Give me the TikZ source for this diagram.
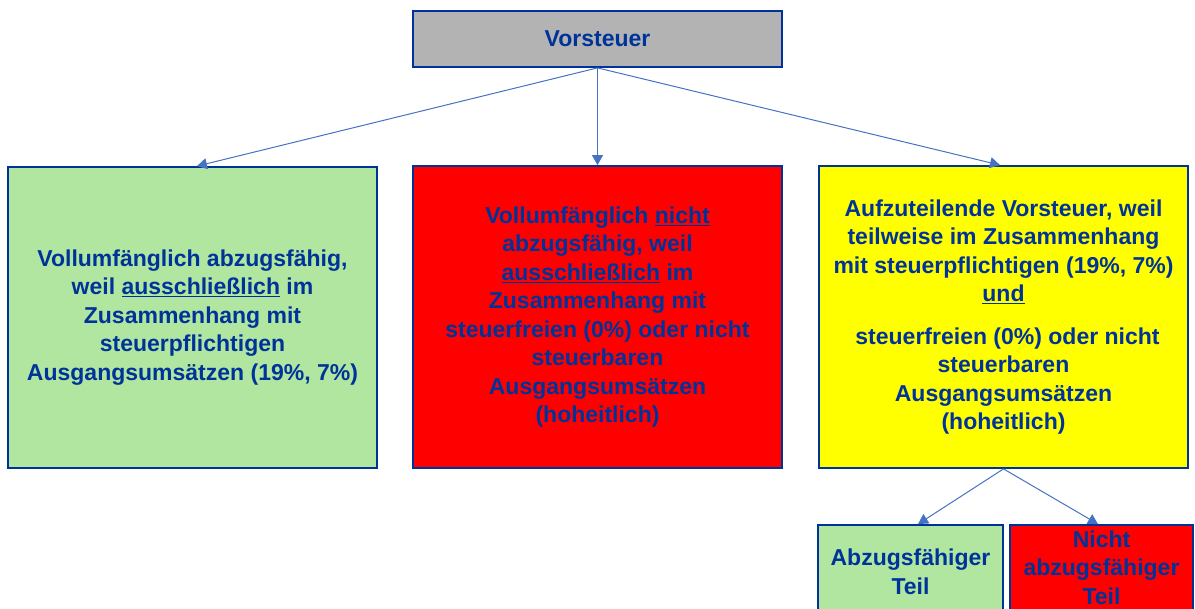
\documentclass[tikz,border=0pt]{standalone}
\usepackage{fontspec}
\setmainfont{Liberation Sans}
\usetikzlibrary{arrows.meta}
\definecolor{txtblue}{RGB}{0,51,153}
\definecolor{edgeblue}{RGB}{0,51,153}
\definecolor{arrowblue}{RGB}{68,114,196}
\definecolor{boxgray}{RGB}{179,179,179}
\definecolor{boxgreen}{RGB}{176,230,160}
\definecolor{boxred}{RGB}{255,0,0}
\definecolor{boxyellow}{RGB}{255,255,0}
\tikzset{
  box/.style={draw=edgeblue, line width=1.8pt, rectangle, inner sep=0pt,
    text=txtblue, align=center,
    font=\fontsize{23pt}{28.5pt}\selectfont\bfseries},
  conn/.style={draw=arrowblue, line width=1pt,
    -{Triangle[width=11pt,length=10pt]}}
}
\begin{document}
\begin{tikzpicture}[x=1pt,y=-1pt]
\useasboundingbox (0,0) rectangle (1195,609);
\clip (0,0) rectangle (1195,609);
\node[box, fill=boxgray, minimum width=369pt, minimum height=56pt] (vst) at (597.5,39) {Vorsteuer};
\node[box, fill=boxgreen, minimum width=369pt, minimum height=301pt] (voll) at (192.5,317.5)
  {Vollumfänglich abzugsfähig,\\ weil \underline{ausschließlich} im\\ Zusammenhang mit\\ steuerpflichtigen\\ Ausgangsumsätzen (19\%, 7\%)};
\node[box, fill=boxred, minimum width=369pt, minimum height=302pt] (nicht) at (597.5,317)
  {Vollumfänglich \underline{nicht}\\ abzugsfähig, weil\\ \underline{ausschließlich} im\\ Zusammenhang mit\\ steuerfreien (0\%) oder nicht\\ steuerbaren\\ Ausgangsumsätzen\\ (hoheitlich)};
\node[box, fill=boxyellow, minimum width=369pt, minimum height=302pt] (aufz) at (1003.5,317)
  {Aufzuteilende Vorsteuer, weil\\ teilweise im Zusammenhang\\ mit steuerpflichtigen (19\%, 7\%)\\ \underline{und}\\[14pt] \hspace*{0.35em}steuerfreien (0\%) oder nicht\\ steuerbaren\\ Ausgangsumsätzen\\ (hoheitlich)};
\node[box, fill=boxgreen, minimum width=185pt, minimum height=94pt] (abz) at (910.5,572)
  {Abzugsfähiger\\ Teil};
\node[box, fill=boxred, minimum width=183pt, minimum height=94pt, text depth=9pt] (nabz) at (1101.5,572)
  {Nicht\\ abzugsfähiger\\ Teil};
\draw[conn] (vst.south) -- ([xshift=4.5pt]voll.north);
\draw[conn] (vst.south) -- (nicht.north);
\draw[conn] (vst.south) -- ([xshift=-3.5pt]aufz.north);
\draw[conn] (aufz.south) -- ([xshift=7.5pt]abz.north);
\draw[conn] (aufz.south) -- ([xshift=-3.5pt]nabz.north);
\end{tikzpicture}
\end{document}
